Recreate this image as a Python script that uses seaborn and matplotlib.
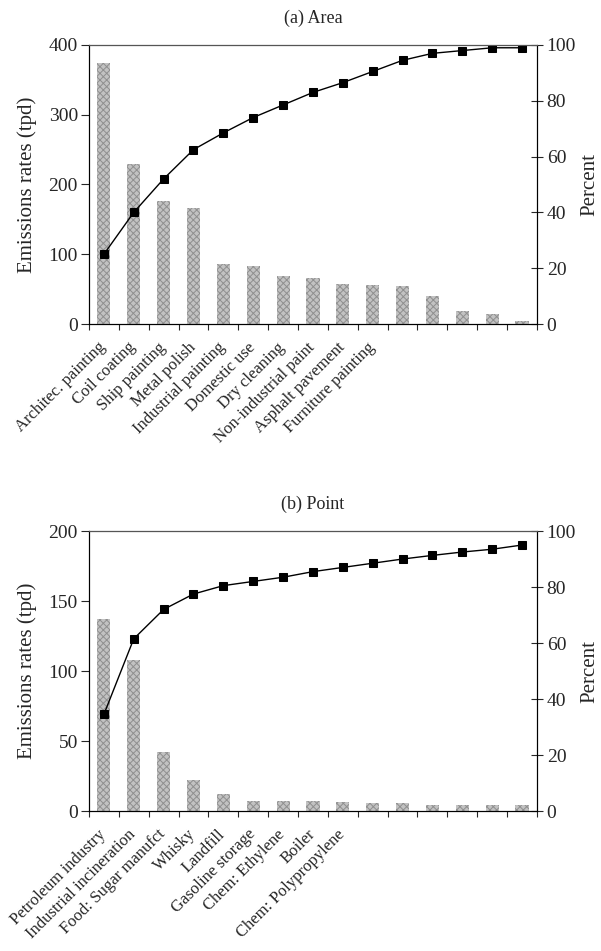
import numpy as np
import matplotlib
matplotlib.use("Agg")
import matplotlib.pyplot as plt
import matplotlib.transforms as mtransforms
import seaborn as sns

# (a) Area sources
area_labels = ["Architec. painting", "Coil coating", "Ship painting", "Metal polish",
               "Industrial painting", "Domestic use", "Dry cleaning",
               "Non-industrial paint", "Asphalt pavement", "Furniture painting"]
area_rates = [374, 229, 176, 166, 86, 83, 69, 66, 57, 56, 55, 40, 19, 15, 4]
area_pct = [25, 40, 52, 62.5, 68.5, 74, 78.5, 83, 86.5, 90.5, 94.5, 97, 98, 99, 99]

# (b) Point sources
point_labels = ["Petroleum industry", "Industrial incineration", "Food: Sugar manufct",
                "Whisky", "Landfill", "Gasoline storage", "Chem: Ethylene", "Boiler",
                "Chem: Polypropylene"]
point_rates = [137, 108, 42, 22, 12, 7, 7, 7, 6.5, 6, 5.5, 4.5, 4.5, 4, 4]
point_pct = [34.5, 61.5, 72, 77.5, 80.5, 82, 83.5, 85.5, 87, 88.5, 90, 91.3, 92.5, 93.5, 95]

sns.set_style("ticks")
plt.rcParams['font.family'] = ['Liberation Serif', 'DejaVu Serif']
plt.rcParams['hatch.linewidth'] = 0.7

FS_TICK = 14
FS_LAB = 15
FS_X = 12


def pareto_panel(fig, ax, rates, pct, labels, title, ymax, ystep):
    n = len(rates)
    x = np.arange(n)
    sns.barplot(x=x, y=rates, ax=ax, color="#c2c2c2", saturation=1, width=0.44,
                hatch="xxxxx", edgecolor="#8f8f8f", linewidth=0)
    ax.set_xlim(-0.5, n - 0.5)
    ax.set_ylim(0, ymax)
    ax.set_yticks(np.arange(0, ymax + 1, ystep))
    ax.set_ylabel("Emissions rates (tpd)", fontsize=FS_LAB, labelpad=8)
    ax.set_title(title, fontsize=13, pad=16)

    # labels under the bars, tick marks between the bars
    ax.set_xticks(x)
    ax.set_xticklabels(labels + [""] * (n - len(labels)), rotation=45,
                       ha="right", rotation_mode="anchor", fontsize=FS_X)
    ax.tick_params(axis="x", which="major", length=0, pad=11)
    shift = mtransforms.ScaledTranslation(-6 / 100, 0, fig.dpi_scale_trans)
    for lab in ax.get_xticklabels():
        lab.set_transform(lab.get_transform() + shift)
    ax.set_xticks(np.arange(-0.5, n, 1.0), minor=True)
    ax.tick_params(axis="x", which="minor", length=4, width=0.8, direction="out")
    ax.tick_params(axis="y", labelsize=FS_TICK, length=6, width=0.8, direction="out", pad=2)
    ax.set_xlabel("")

    ax2 = ax.twinx()
    sns.lineplot(x=x, y=pct, ax=ax2, color="black", linewidth=1.0, marker="s",
                 markersize=5.5, markeredgecolor="black")
    ax2.set_ylim(0, 100)
    ax2.set_yticks(np.arange(0, 101, 20))
    ax2.set_ylabel("Percent", fontsize=FS_LAB, labelpad=3)
    ax2.tick_params(axis="y", labelsize=FS_TICK, length=8, width=0.8, direction="inout", pad=3)

    for a in (ax, ax2):
        for s in a.spines.values():
            s.set_visible(True)
            s.set_linewidth(0.8)
            s.set_color("black")
    ax2.spines["right"].set_linestyle((0, (2, 1)))
    ax2.spines["top"].set_color("#555555")
    return ax2


fig = plt.figure(figsize=(6.01, 9.51), dpi=100)
ax_a = fig.add_axes([0.148, 0.6593, 0.7454, 0.2934])
ax_b = fig.add_axes([0.148, 0.1472, 0.7454, 0.2944])

pareto_panel(fig, ax_a, area_rates, area_pct, area_labels, "(a) Area", 400, 100)
pareto_panel(fig, ax_b, point_rates, point_pct, point_labels, "(b) Point", 200, 50)

fig.savefig("out.png", dpi=100)
